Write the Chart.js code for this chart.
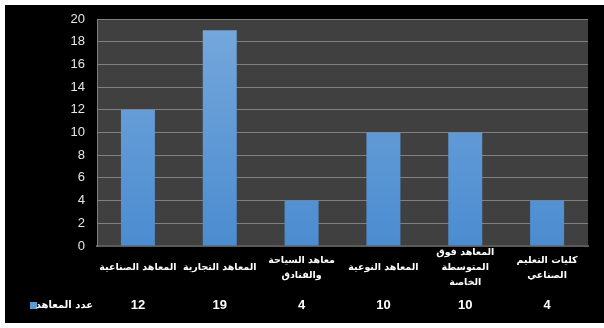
<!DOCTYPE html>
<html>
<head>
  <meta charset="UTF-8">
  <title>عدد المعاهد</title>
  <script src="https://cdn.jsdelivr.net/npm/chart.js"></script>
  <style>
    body {
      margin: 0;
      background: #ffffff;
    }
    #box {
      position: absolute;
      left: 5px;
      top: 5px;
      width: 599px;
      height: 318px;
      background: #000000;
    }
  </style>
</head>
<body>
  <div id="box"><canvas id="instChart" width="599" height="318"></canvas></div>

  <script>
    const categories = [
      'المعاهد الصناعية',
      'المعاهد التجارية',
      ['معاهد السياحة', 'والفنادق'],
      'المعاهد النوعية',
      ['المعاهد فوق', 'المتوسطة', 'الخاصة'],
      ['كليات التعليم', 'الصناعي']
    ];
    const instituteCounts = [12, 19, 4, 10, 10, 4];
    const seriesName = 'عدد المعاهد';

    const latin = '"Liberation Sans", "DejaVu Sans", Arial, sans-serif';

    // grey plot background
    const plotBg = {
      id: 'plotBg',
      beforeDraw(chart) {
        const { ctx, chartArea: a } = chart;
        ctx.save();
        ctx.fillStyle = '#404040';
        ctx.fillRect(a.left, a.top, a.right - a.left, a.bottom - a.top);
        ctx.restore();
      }
    };

    // data table row under the axis labels
    const dataTable = {
      id: 'dataTable',
      afterDraw(chart) {
        const { ctx } = chart;
        const x = chart.scales.x;
        const y = 300;
        ctx.save();
        ctx.fillStyle = '#ffffff';
        ctx.font = 'bold 13px ' + latin;
        ctx.textAlign = 'center';
        ctx.textBaseline = 'middle';
        instituteCounts.forEach((v, i) => {
          ctx.fillText(String(v), x.getPixelForValue(i), y);
        });
        // legend key
        ctx.fillStyle = '#5b9bd5';
        ctx.fillRect(25, y - 3, 7, 7);
        ctx.fillStyle = '#ffffff';
        ctx.font = 'bold 10px "DejaVu Sans", sans-serif';
        ctx.textAlign = 'right';
        ctx.fillText(seriesName, 88, y);
        ctx.restore();
      }
    };

    const ctx = document.getElementById('instChart').getContext('2d');
    new Chart(ctx, {
      type: 'bar',
      data: {
        labels: categories,
        datasets: [{
          label: seriesName,
          data: instituteCounts,
          backgroundColor: c => {
            const a = c.chart.chartArea;
            if (!a) return '#5b9bd5';
            const g = c.chart.ctx.createLinearGradient(0, a.top, 0, a.bottom);
            g.addColorStop(0, '#76a8dc');
            g.addColorStop(1, '#4b8cd0');
            return g;
          },
          barPercentage: 0.415,
          categoryPercentage: 1
        }]
      },
      options: {
        responsive: false,
        animation: false,
        layout: { padding: { top: 14, right: 16, left: 0, bottom: 0 } },
        plugins: {
          legend: { display: false },
          tooltip: { enabled: false }
        },
        scales: {
          x: {
            afterFit: s => { s.height = 77; },
            grid: { display: false, drawTicks: false },
            border: { color: '#5a5a5a', width: 2 },
            ticks: {
              color: '#ffffff',
              padding: 7,
              maxRotation: 0,
              minRotation: 0,
              autoSkip: false,
              crossAlign: 'center',
              font: { family: '"DejaVu Sans", sans-serif', size: 9.5, weight: 'bold', lineHeight: 1.58 }
            }
          },
          y: {
            min: 0,
            max: 20,
            afterFit: s => { s.width = 92; s.paddingTop = 0; s.paddingBottom = 0; },
            grid: { color: '#808080', lineWidth: 1, drawTicks: false },
            border: { color: '#808080', width: 1 },
            ticks: {
              stepSize: 2,
              color: '#e6e6e6',
              padding: 12,
              font: { family: latin, size: 13 }
            }
          }
        }
      },
      plugins: [plotBg, dataTable]
    });
  </script>
</body>
</html>
